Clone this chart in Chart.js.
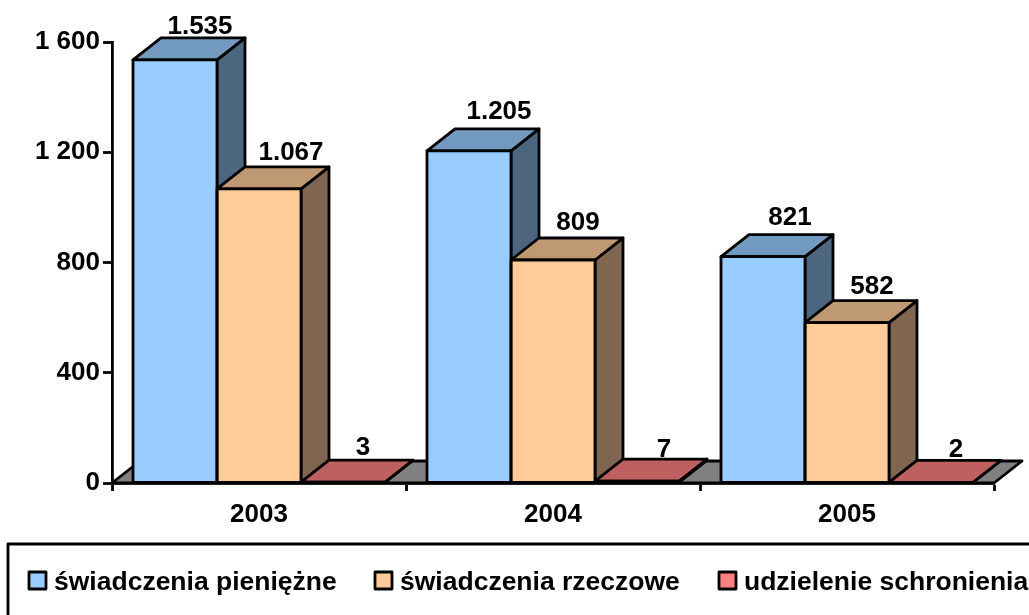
<!DOCTYPE html>
<html><head><meta charset="utf-8">
<style>html,body{margin:0;padding:0;background:#fff}canvas{display:block}</style>
<script src="https://cdn.jsdelivr.net/npm/chart.js@4"></script>
</head><body><canvas id="c" width="1029" height="615"></canvas>
<script>
const categories = ['2003','2004','2005'];
const tickValues = [0,400,800,1200,1600];
const seriesNames = ['świadczenia pieniężne','świadczenia rzeczowe','udzielenie schronienia'];
const pieniezne = [1535,1205,821];
const rzeczowe = [1067,809,582];
const schronienie = [3,7,2];
const FAMILY = '"Liberation Sans", Arial, sans-serif';
const FONT = 'bold 26px '+FAMILY;
const LEGEND_FONT = 'bold 26.5px '+FAMILY;
const DX = 28, DY = -22, LW = 2.8;
const palette = [
 {front:'#99CCFF',top:'#7299BF',side:'#4D6680'},
 {front:'#FFCC99',top:'#BF9973',side:'#806650'},
 {front:'#FF8080',top:'#BF6060',side:'#804040'}];
// label placement relative to bar centre / bar top
const labelNudge = [[[25,-26],[32,-29],[20,-27]],[[30,-32],[25,-30],[27,-24]],[[27,-32],[25,-29],[25,-25]]];
function fmt(v){return String(v).replace(/\B(?=(\d{3})+$)/g,'.');}
function quad(ctx,p,fill){ctx.beginPath();ctx.moveTo(p[0][0],p[0][1]);for(let i=1;i<p.length;i++)ctx.lineTo(p[i][0],p[i][1]);ctx.closePath();if(fill){ctx.fillStyle=fill;ctx.fill();}ctx.stroke();}
const bars3d = {
 id:'bars3d',
 beforeDatasetsDraw(chart){
  const {ctx,chartArea:a}=chart;ctx.save();ctx.strokeStyle='#000';ctx.lineWidth=LW;ctx.lineJoin='round';
  quad(ctx,[[a.left,a.bottom],[a.left+DX,a.bottom+DY],[a.right+DX,a.bottom+DY],[a.right,a.bottom]],'#808080');
  categories.forEach((_,i)=>{chart.data.datasets.forEach((d,s)=>{
    const b=chart.getDatasetMeta(s).data[i];const l=b.x-b.width/2,r=b.x+b.width/2,t=b.y,bo=b.base;
    quad(ctx,[[r,t],[r+DX,t+DY],[r+DX,bo+DY],[r,bo]],palette[s].side);
    quad(ctx,[[l,t],[l+DX,t+DY],[r+DX,t+DY],[r,t]],palette[s].top);
  });});
  ctx.restore();
 },
 afterDatasetsDraw(chart){
  const {ctx}=chart;ctx.save();ctx.strokeStyle='#000';ctx.lineWidth=LW;ctx.lineJoin='round';
  categories.forEach((_,i)=>{chart.data.datasets.forEach((d,s)=>{
    const b=chart.getDatasetMeta(s).data[i];
    ctx.strokeRect(b.x-b.width/2,b.y,b.width,b.base-b.y);
  });});
  ctx.fillStyle='#000';ctx.font=FONT;ctx.textAlign='center';ctx.textBaseline='alphabetic';
  categories.forEach((_,i)=>{chart.data.datasets.forEach((d,s)=>{
    const b=chart.getDatasetMeta(s).data[i],n=labelNudge[i][s];
    ctx.fillText(fmt(d.data[i]),b.x+n[0],b.y+n[1]);
  });});
  // legend
  ctx.strokeRect(8,544,1100,200);
  ctx.textAlign='left';ctx.font=LEGEND_FONT;
  const mk=[29,375,719],tx=[54,400,744];
  seriesNames.forEach((n,s)=>{
    ctx.fillStyle=palette[s].front;ctx.fillRect(mk[s],572,17,17);ctx.strokeRect(mk[s],572,17,17);
    ctx.fillStyle='#000';ctx.fillText(n,tx[s],590);
  });
  ctx.restore();
 }
};
new Chart(document.getElementById('c'),{
 type:'bar',
 data:{labels:categories,datasets:[pieniezne,rzeczowe,schronienie].map((data,s)=>({label:seriesNames[s],data,backgroundColor:palette[s].front,borderWidth:0}))},
 plugins:[bars3d],
 options:{
  responsive:false,animation:false,
  layout:{padding:{left:0,right:35,top:42,bottom:72}},
  categoryPercentage:6/7,barPercentage:1,
  plugins:{legend:{display:false},tooltip:{enabled:false},title:{display:false}},
  scales:{
   x:{afterFit(s){s.height=60;},
      border:{color:'#000',width:LW},
      grid:{offset:true,drawOnChartArea:false,drawTicks:true,tickLength:8,tickWidth:LW,tickColor:'#000'},
      ticks:{color:'#000',font:{family:FAMILY,size:26,weight:'bold'},padding:8,maxRotation:0}},
   y:{afterFit(s){s.width=112;},min:0,max:1600,
      afterBuildTicks(s){s.ticks=tickValues.map(value=>({value}));},
      border:{color:'#000',width:LW},
      grid:{drawOnChartArea:false,drawTicks:true,tickLength:9,tickWidth:LW,tickColor:'#000'},
      ticks:{color:'#000',font:{family:FAMILY,size:26,weight:'bold'},padding:3,
        callback:v=>String(v).replace(/\B(?=(\d{3})+$)/g,' ')}}
  }
 }
});
</script></body></html>
